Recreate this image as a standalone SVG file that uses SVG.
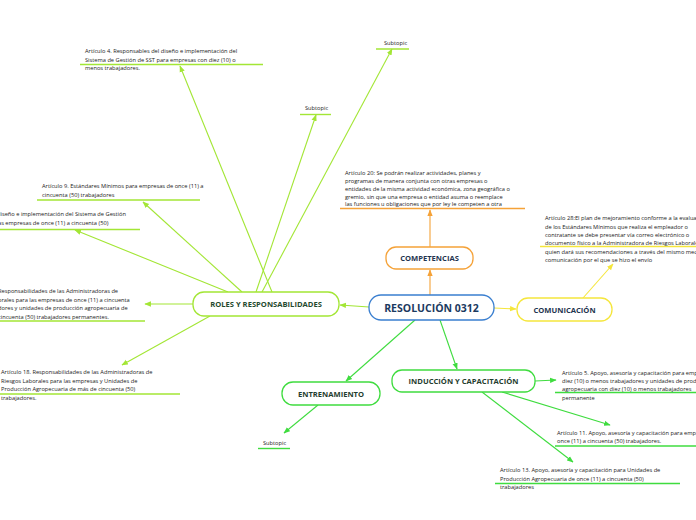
<svg xmlns="http://www.w3.org/2000/svg" width="696" height="520" viewBox="0 0 696 520">
<style>
.t{font-family:"Open Sans","Noto Sans","Liberation Sans",sans-serif;font-size:5.7px;fill:#222}
.n{font-family:"Open Sans","Noto Sans","Liberation Sans",sans-serif;font-weight:bold;text-anchor:middle;dominant-baseline:central}
.box{fill:#fff;stroke-width:1.3}
.ln{fill:none;stroke-width:1.1}
.ul{stroke-width:1.4}
</style>
<defs>
<marker id="aL" viewBox="0 0 10 10" refX="9" refY="5" markerWidth="6" markerHeight="6" orient="auto"><path d="M0,1L10,5L0,9z" fill="#a3e635"/></marker>
<marker id="aG" viewBox="0 0 10 10" refX="9" refY="5" markerWidth="6" markerHeight="6" orient="auto"><path d="M0,1L10,5L0,9z" fill="#3fdc3f"/></marker>
<marker id="aO" viewBox="0 0 10 10" refX="9" refY="5" markerWidth="6" markerHeight="6" orient="auto"><path d="M0,1L10,5L0,9z" fill="#f5a238"/></marker>
<marker id="aY" viewBox="0 0 10 10" refX="9" refY="5" markerWidth="6" markerHeight="6" orient="auto"><path d="M0,1L10,5L0,9z" fill="#f5e63c"/></marker>
</defs>
<rect width="696" height="520" fill="#fff"/>
<g id="connectors">
<line class="ln" stroke="#f5a238" x1="430" y1="295" x2="430" y2="270" marker-end="url(#aO)"/>
<line class="ln" stroke="#f5e63c" x1="494" y1="308" x2="516" y2="309" marker-end="url(#aY)"/>
<line class="ln" stroke="#a3e635" x1="369" y1="307" x2="340" y2="305" marker-end="url(#aL)"/>
<line class="ln" stroke="#3fdc3f" x1="440" y1="320" x2="457" y2="369" marker-end="url(#aG)"/>
<line class="ln" stroke="#3fdc3f" x1="415" y1="320" x2="346" y2="381" marker-end="url(#aG)"/>
<line class="ln" stroke="#a3e635" x1="272" y1="292" x2="180" y2="66" marker-end="url(#aL)"/>
<line class="ln" stroke="#a3e635" x1="262" y1="292" x2="392" y2="49" marker-end="url(#aL)"/>
<line class="ln" stroke="#a3e635" x1="256" y1="292" x2="316" y2="115" marker-end="url(#aL)"/>
<line class="ln" stroke="#a3e635" x1="242" y1="292" x2="143" y2="202" marker-end="url(#aL)"/>
<line class="ln" stroke="#a3e635" x1="228" y1="292" x2="75" y2="230" marker-end="url(#aL)"/>
<line class="ln" stroke="#a3e635" x1="193" y1="304" x2="145" y2="304" marker-end="url(#aL)"/>
<line class="ln" stroke="#a3e635" x1="210" y1="316" x2="122" y2="365" marker-end="url(#aL)"/>
<line class="ln" stroke="#f5a238" x1="430" y1="247" x2="430" y2="210" marker-end="url(#aO)"/>
<line class="ln" stroke="#f5e63c" x1="583" y1="298" x2="613" y2="264" marker-end="url(#aY)"/>
<line class="ln" stroke="#3fdc3f" x1="535" y1="381" x2="556" y2="380" marker-end="url(#aG)"/>
<line class="ln" stroke="#3fdc3f" x1="502" y1="392" x2="610" y2="425" marker-end="url(#aG)"/>
<line class="ln" stroke="#3fdc3f" x1="482" y1="392" x2="573" y2="462" marker-end="url(#aG)"/>
<line class="ln" stroke="#3fdc3f" x1="318" y1="405" x2="284" y2="433" marker-end="url(#aG)"/>
</g>
<g id="center">
<rect class="box" x="369" y="295" width="125" height="25" rx="12" stroke="#3a7fd0" stroke-width="1.6"/>
<text class="n" x="431.5" y="308" font-size="10.5" fill="#1b3a5f">RESOLUCIÓN 0312</text>
</g>
<g id="roles">
<rect class="box" x="193" y="292" width="146" height="24" rx="11" stroke="#a3e635"/>
<text class="n" x="266" y="304" font-size="7.6" fill="#1f4a2e">ROLES Y RESPONSABILIDADES</text>
</g>
<g id="competencias">
<rect class="box" x="386" y="247" width="87" height="22" rx="10" stroke="#f5a238"/>
<text class="n" x="429.5" y="258" font-size="7.6" fill="#1f3550">COMPETENCIAS</text>
</g>
<g id="comunicacion">
<rect class="box" x="517" y="298" width="95" height="23" rx="11" stroke="#f5e63c"/>
<text class="n" x="564.5" y="309.5" font-size="7.6" fill="#1f3550">COMUNICACIÓN</text>
</g>
<g id="induccion">
<rect class="box" x="392" y="370" width="143" height="22" rx="10" stroke="#3fdc3f"/>
<text class="n" x="463.5" y="381" font-size="7.6" fill="#1f3d2e">INDUCCIÓN Y CAPACITACIÓN</text>
</g>
<g id="entrenamiento">
<rect class="box" x="282" y="382" width="98" height="23" rx="11" stroke="#3fdc3f"/>
<text class="n" x="331" y="393.5" font-size="7.6" fill="#1f3d2e">ENTRENAMIENTO</text>
</g>
<g id="art4">
<line class="ul" stroke="#a3e635" x1="80" y1="64.5" x2="263" y2="64.5"/>
<text class="t" x="85" y="53">Artículo 4. Responsables del diseño e implementación del</text>
<text class="t" x="85" y="61.5">Sistema de Gestión de SST para empresas con diez (10) o</text>
<text class="t" x="85" y="70">menos trabajadores.</text>
</g>
<g id="subtopic1">
<line class="ul" stroke="#a3e635" x1="376" y1="49" x2="409" y2="49"/>
<text class="t" x="384" y="45">Subtopic</text>
</g>
<g id="subtopic2">
<line class="ul" stroke="#a3e635" x1="300" y1="114.5" x2="331" y2="114.5"/>
<text class="t" x="305" y="110">Subtopic</text>
</g>
<g id="art9">
<line class="ul" stroke="#a3e635" x1="37" y1="200" x2="200" y2="200"/>
<text class="t" x="42" y="188">Artículo 9. Estándares Mínimos para empresas de once (11) a</text>
<text class="t" x="42" y="196.5">cincuenta (50) trabajadores</text>
</g>
<g id="art8">
<line class="ul" stroke="#a3e635" x1="0" y1="229.5" x2="140" y2="229.5"/>
<text class="t" x="-3" y="216">diseño e implementación del Sistema de Gestión</text>
<text class="t" x="-2" y="224.5">as empresas de once (11) a cincuenta (50)</text>
</g>
<g id="art16">
<line class="ul" stroke="#a3e635" x1="0" y1="321" x2="145" y2="321"/>
<text class="t" x="-2" y="292.5">Responsabilidades de las Administradoras de</text>
<text class="t" x="-2" y="301.5">orales para las empresas de once (11) a cincuenta</text>
<text class="t" x="-2" y="310">dores y unidades de producción agropecuaria de</text>
<text class="t" x="-2" y="318.5">cincuenta (50) trabajadores permanentes.</text>
</g>
<g id="art18">
<line class="ul" stroke="#a3e635" x1="0" y1="394" x2="180" y2="394"/>
<text class="t" x="1" y="374">Artículo 18. Responsabilidades de las Administradoras de</text>
<text class="t" x="1" y="382.5">Riesgos Laborales para las empresas y Unidades de</text>
<text class="t" x="1" y="391">Producción Agropecuaria de más de cincuenta (50)</text>
<text class="t" x="1" y="399.5">trabajadores.</text>
</g>
<g id="art20">
<line class="ul" stroke="#f5a238" x1="340" y1="208.5" x2="525" y2="208.5"/>
<text class="t" x="345" y="175">Artículo 20: Se podrán realizar actividades, planes y</text>
<text class="t" x="345" y="183">programas de manera conjunta con otras empresas o</text>
<text class="t" x="345" y="190.5">entidades de la misma actividad económica, zona geográfica o</text>
<text class="t" x="345" y="198.5">gremio, sin que una empresa o entidad asuma o reemplace</text>
<text class="t" x="345" y="206">las funciones u obligaciones que por ley le competen a otra</text>
</g>
<g id="art28">
<line class="ul" stroke="#f5e63c" x1="540" y1="246.5" x2="696" y2="246.5"/>
<text class="t" x="545" y="220">Artículo 28:El plan de mejoramiento conforme a la evaluación</text>
<text class="t" x="545" y="228.5">de los Estándares Mínimos que realiza el empleador o</text>
<text class="t" x="545" y="237">contratante se debe presentar vía correo electrónico o</text>
<text class="t" x="545" y="245">documento físico a la Administradora de Riesgos Laborales</text>
<text class="t" x="545" y="253.5">quien dará sus recomendaciones a través del mismo medio de</text>
<text class="t" x="545" y="262">comunicación por el que se hizo el envío</text>
</g>
<g id="art5">
<line class="ul" stroke="#3fdc3f" x1="555" y1="392.5" x2="696" y2="392.5"/>
<text class="t" x="562" y="374.5">Artículo 5. Apoyo, asesoría y capacitación para empresas de</text>
<text class="t" x="562" y="382.5">diez (10) o menos trabajadores y unidades de producción</text>
<text class="t" x="562" y="391">agropecuaria con diez (10) o menos trabajadores</text>
<text class="t" x="562" y="399.5">permanente</text>
</g>
<g id="art11">
<line class="ul" stroke="#3fdc3f" x1="555" y1="446" x2="696" y2="446"/>
<text class="t" x="557" y="435">Artículo 11. Apoyo, asesoría y capacitación para empresas de</text>
<text class="t" x="557" y="443">once (11) a cincuenta (50) trabajadores.</text>
</g>
<g id="art13">
<line class="ul" stroke="#3fdc3f" x1="495" y1="483.5" x2="680" y2="483.5"/>
<text class="t" x="500" y="472">Artículo 13. Apoyo, asesoría y capacitación para Unidades de</text>
<text class="t" x="500" y="480.5">Producción Agropecuaria de once (11) a cincuenta (50)</text>
<text class="t" x="500" y="489">trabajadores</text>
</g>
<g id="subtopic3">
<line class="ul" stroke="#3fdc3f" x1="258" y1="448.5" x2="290" y2="448.5"/>
<text class="t" x="263" y="445">Subtopic</text>
</g>
</svg>
